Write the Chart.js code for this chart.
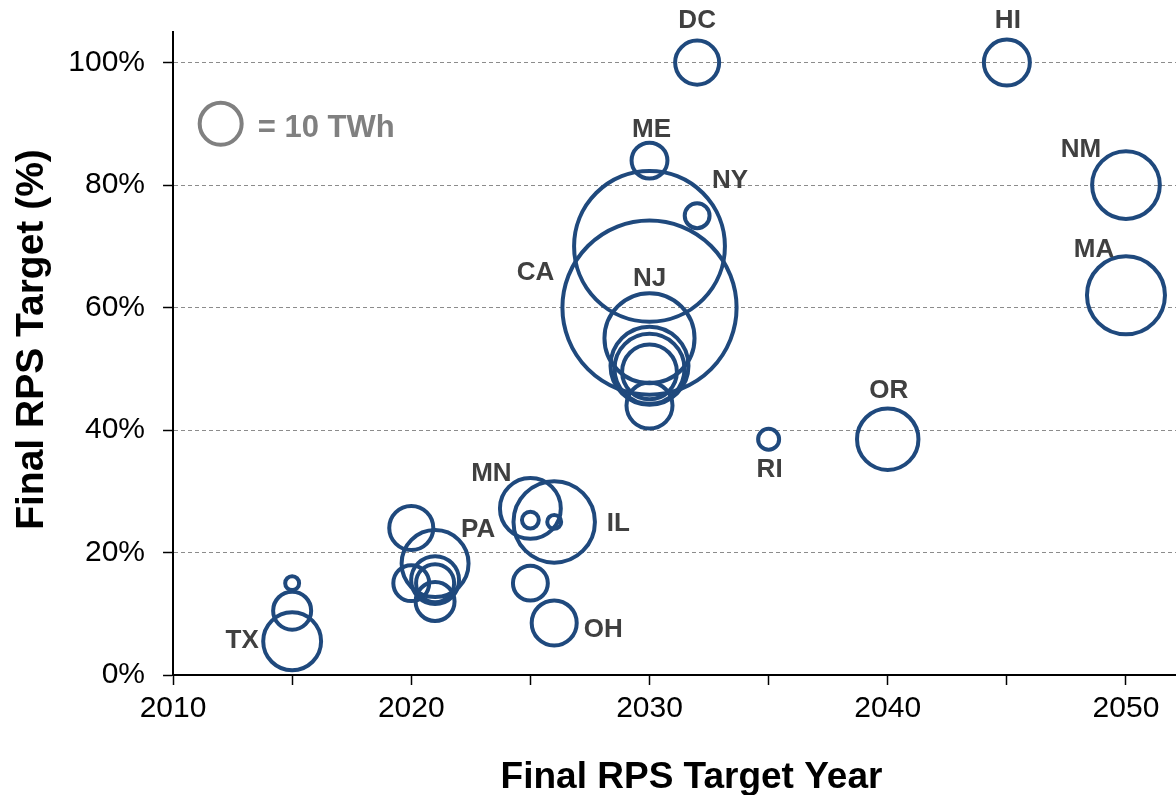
<!DOCTYPE html>
<html>
<head>
<meta charset="utf-8">
<script src="https://cdn.jsdelivr.net/npm/chart.js@4.4.0/dist/chart.umd.min.js"></script>
<style>
  html, body { margin: 0; padding: 0; background: #fff; }
  #wrap { width: 1176px; height: 795px; }
</style>
</head>
<body>
<div id="wrap"><canvas id="rpsChart" width="1176" height="795"></canvas></div>
<script>
  //---------------------------------------------------
  // Data
  //---------------------------------------------------

  const states = [
    "TX", "", "",
    "", "", "PA", "", "", "",
    "MN", "IL", "", "", "", "OH",
    "ME", "NY", "", "CA", "NJ", "", "", "", "",
    "DC", "HI", "NM", "MA", "OR", "RI",
  ];
  const targetYear = [
    2015, 2015, 2015,
    2020, 2020, 2021, 2021, 2021, 2021,
    2025, 2026, 2025, 2026, 2025, 2026,
    2030, 2032, 2030, 2030, 2030, 2030, 2030, 2030, 2030,
    2032, 2045, 2050, 2050, 2040, 2035,
  ];
  const targetPct = [
    5.5, 10.5, 15,
    24, 15, 18.2, 15.5, 15, 12,
    27.2, 25, 25.3, 25, 15, 8.5,
    84, 75, 70, 60, 55, 50.5, 50, 49.5, 44,
    100, 100, 80, 62, 38.5, 38.5,
  ];
  // RPS demand in target year (TWh)
  const demandTWh = [
    19, 8.2, 1.1,
    11, 7.3, 25.4, 13, 8.2, 8.6,
    21, 37.6, 1.6, 1.1, 6.9, 11.5,
    7.3, 3.5, 129, 172, 46, 34.5, 27.8, 17, 12,
    11, 12, 26, 34.5, 21.4, 2.5,
  ];

  // size key
  const keyYear = [2012];
  const keyPct = [90];
  const keyTWh = [10];
  const keyLabel = ["= 10 TWh"];

  const yTicks = [0, 20, 40, 60, 80, 100];

  const xTitle = "Final RPS Target Year";
  const yTitle = "Final RPS Target (%)";

  //---------------------------------------------------
  // Helpers
  //---------------------------------------------------

  const FONT = "'Liberation Sans', Arial, Helvetica, sans-serif";
  const KEY_RADIUS = 21; // px radius of the 10 TWh key circle

  function bubbleRadius(twh) {
    return KEY_RADIUS * Math.sqrt(twh / keyTWh[0]);
  }

  function buildPoints(xs, ys, sizes) {
    return xs.map((x, i) => ({ x: x, y: ys[i], r: bubbleRadius(sizes[i]) }));
  }

  // label offsets from bubble centre (px)
  const labelOffsets = {
    DC: [0, -42], HI: [1, -42], ME: [2, -31], NY: [33, -35],
    NM: [-45, -35], MA: [-32, -45], CA: [-114, -35], NJ: [0, -59],
    OR: [1, -48], RI: [1, 31], MN: [-39, -35], PA: [43, -34],
    IL: [64, 2], TX: [-50, 0], OH: [49, 7],
    "= 10 TWh": [37, 5],
  };

  const labelPlugin = {
    id: "stateLabels",
    afterDatasetsDraw(chart) {
      const ctx = chart.ctx;
      chart.data.datasets.forEach((ds, di) => {
        const meta = chart.getDatasetMeta(di);
        meta.data.forEach((el, i) => {
          const text = ds.labels[i];
          if (!text) return;
          const off = labelOffsets[text] || [0, 0];
          ctx.save();
          ctx.font = "bold " + ds.labelSize + "px " + FONT;
          ctx.fillStyle = ds.labelColor;
          ctx.textAlign = ds.labelAlign;
          ctx.textBaseline = "middle";
          ctx.fillText(text, el.x + off[0], el.y + off[1]);
          ctx.restore();
        });
      });
    },
  };

  // axis titles (placed a little off the plot centre, as in the original)
  const axisTitlePlugin = {
    id: "axisTitles",
    afterDraw(chart) {
      const ctx = chart.ctx;
      const area = chart.chartArea;
      ctx.save();
      ctx.fillStyle = "#000";
      ctx.textAlign = "center";
      ctx.textBaseline = "middle";

      ctx.font = "bold 37px " + FONT;
      ctx.fillText(xTitle, (area.left + area.right) / 2 + 17, chart.height - 17);

      ctx.translate(32, (area.top + area.bottom) / 2 - 14);
      ctx.rotate(-Math.PI / 2);
      ctx.font = "bold 39px " + FONT;
      ctx.fillText(yTitle, 0, 0);
      ctx.restore();
    },
  };

  //---------------------------------------------------
  // Chart
  //---------------------------------------------------

  Chart.defaults.font.family = FONT;

  const ctx = document.getElementById("rpsChart");

  new Chart(ctx, {
    type: "bubble",
    data: {
      datasets: [
        {
          data: buildPoints(targetYear, targetPct, demandTWh),
          labels: states,
          labelSize: 26,
          labelColor: "#404040",
          labelAlign: "center",
          backgroundColor: "rgba(0,0,0,0)",
          borderColor: "#1f497d",
          borderWidth: 4,
          clip: false,
        },
        {
          data: buildPoints(keyYear, keyPct, keyTWh),
          labels: keyLabel,
          labelSize: 31,
          labelColor: "#808080",
          labelAlign: "left",
          backgroundColor: "rgba(0,0,0,0)",
          borderColor: "#808080",
          borderWidth: 4,
          clip: false,
        },
      ],
    },
    options: {
      responsive: false,
      animation: false,
      events: [],
      layout: { autoPadding: false, padding: { top: 32, right: 0, bottom: 62, left: 50.3 } },
      plugins: {
        legend: { display: false },
        tooltip: { enabled: false },
      },
      scales: {
        x: {
          type: "linear",
          position: "bottom",
          min: 2010,
          max: 2052.1,
          ticks: {
            stepSize: 5,
            includeBounds: false,
            autoSkip: false,
            maxRotation: 0,
            padding: 6,
            color: "#000",
            font: { size: 30 },
            callback: (v) => (v % 10 === 0 ? String(v) : ""),
          },
          grid: {
            drawOnChartArea: false,
            drawTicks: true,
            tickLength: 10,
            tickColor: "#000",
            tickWidth: 1.5,
          },
          border: { color: "#000", width: 2 },
          title: { display: false },
        },
        y: {
          min: 0,
          max: 105,
          afterBuildTicks: (scale) => {
            scale.ticks = yTicks.map((v) => ({ value: v }));
          },
          afterFit: (scale) => {
            scale.paddingTop = 0;
          },
          ticks: {
            padding: 18,
            color: "#000",
            font: { size: 30 },
            callback: (v) => v + "%",
          },
          grid: {
            color: (c) => (c.tick && c.tick.value === 0 ? "rgba(0,0,0,0)" : "#8c8c8c"),
            lineWidth: 1,
            drawTicks: true,
            tickLength: 10,
            tickColor: "#000",
            tickWidth: 1.5,
            tickBorderDash: [],
          },
          border: { color: "#000", width: 2, dash: [4, 3] },
          title: { display: false },
        },
      },
    },
    plugins: [labelPlugin, axisTitlePlugin],
  });
</script>
</body>
</html>
